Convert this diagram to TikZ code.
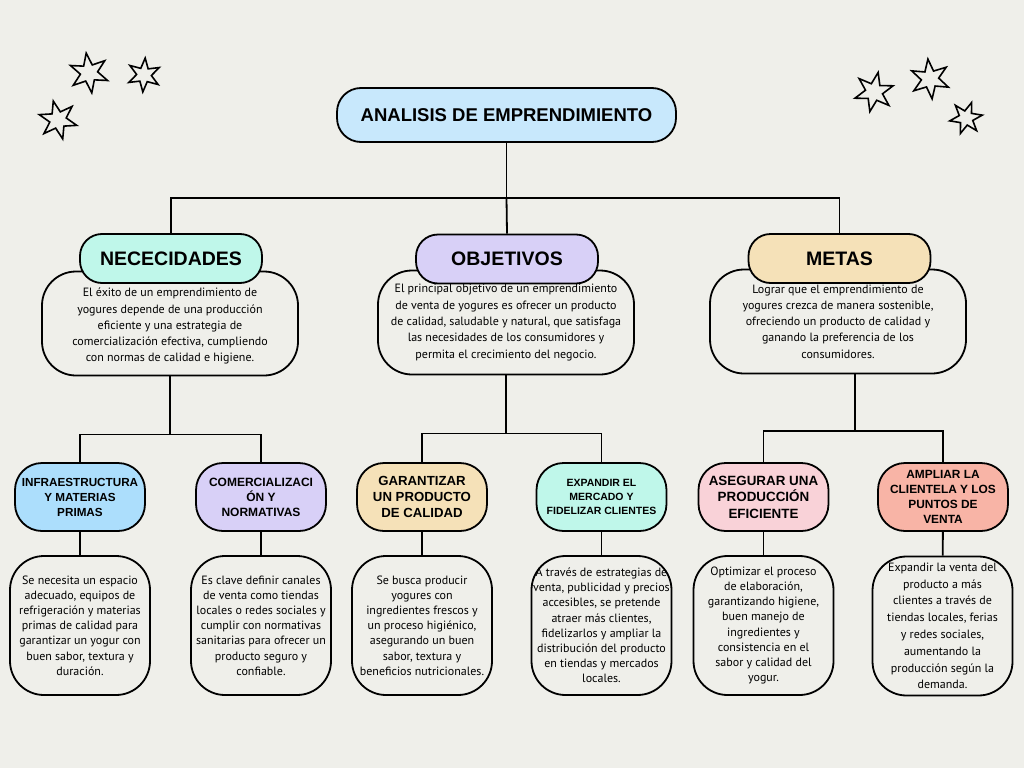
\documentclass[tikz,border=0pt]{standalone}
\usepackage{fontspec}
\setmainfont{PT Sans}
\newfontfamily\titfont{Liberation Sans}
\usepackage{xcolor}
\usepackage{tikz}
\usetikzlibrary{shapes.geometric}

\definecolor{fondo}{HTML}{EFEFEA}
\definecolor{celeste}{HTML}{C8E8FC}
\definecolor{azul}{HTML}{ACDEFC}
\definecolor{menta}{HTML}{BFF7EA}
\definecolor{lila}{HTML}{D8D0F7}
\definecolor{crema}{HTML}{F5E1B8}
\definecolor{rosa}{HTML}{F9D2D8}
\definecolor{salmon}{HTML}{F8B4A6}

\tikzset{
  caja/.style={draw=black, line width=1.8pt, fill=fondo, align=center, inner sep=0pt},
  principal/.style={caja, fill=celeste, rounded corners=24pt, minimum width=339pt,
    minimum height=54pt, font=\titfont\bfseries\fontsize{18.5}{22}\selectfont},
  rama/.style={caja, rounded corners=22pt, minimum width=182pt, minimum height=49pt,
    font=\titfont\bfseries\fontsize{19.5}{22}\selectfont},
  resumen/.style={caja, rounded corners=34pt, minimum width=256pt, minimum height=104pt,
    font=\fontsize{12}{16.3}\selectfont},
  sub/.style={caja, rounded corners=27pt, minimum width=130pt, minimum height=68pt},
  detalle/.style={caja, rounded corners=34pt, minimum width=140pt, minimum height=139pt,
    font=\fontsize{12}{15.2}\selectfont},
  enlace/.style={line width=1.8pt},
  estrella/.style={draw, star, star points=6, star point ratio=2.3, line width=1.6pt,
    minimum size=#1, inner sep=0pt}
}

\begin{document}
\begin{tikzpicture}[x=1pt, y=-1pt]
  \fill[fondo] (0,0) rectangle (1024,768);
  \useasboundingbox (0,0) rectangle (1024,768);

  % estrellas
  \node[estrella=40pt, rotate=8] (s1) at (89,73) {};
  \node[estrella=34pt, rotate=-4] (s2) at (144,75) {};
  \node[estrella=39pt, rotate=14] (s3) at (58,120) {};
  \node[estrella=40pt, rotate=-12] (s4) at (874,92) {};
  \node[estrella=40pt, rotate=6] (s5) at (930,79) {};
  \node[estrella=33pt, rotate=-20] (s6) at (966,118) {};

  \node[principal] (tit) at (506.5,115) {ANALISIS DE EMPRENDIMIENTO};

  % textos de cada rama
  \node[resumen] (dnec) at (170,323.5)
    {\\[-2pt]El éxito de un emprendimiento de\\ yogures depende de una producción\\
     eficiente y una estrategia de\\ comercialización efectiva, cumpliendo\\
     con normas de calidad e higiene.};
  \node[resumen] (dobj) at (506,322.5)
    {El principal objetivo de un emprendimiento\\ de venta de yogures es ofrecer un producto\\
     de calidad, saludable y natural, que satisfaga\\ las necesidades de los consumidores y\\
     permita el crecimiento del negocio.};
  \node[resumen] (dmet) at (838,321.5)
    {Lograr que el emprendimiento de\\ yogures crezca de manera sostenible,\\
     ofreciendo un producto de calidad y\\ ganando la preferencia de los\\ consumidores.};

  \node[rama, fill=menta] (nec) at (171,258.5) {NECECIDADES};
  \node[rama, fill=lila] (obj) at (507,259) {OBJETIVOS};
  \node[rama, fill=crema] (met) at (839.5,258.5) {METAS};

  % subtemas
  \node[sub, fill=azul, font=\titfont\bfseries\fontsize{11.7}{15}\selectfont] (infra) at (80,497)
    {INFRAESTRUCTURA\\ Y MATERIAS\\ PRIMAS};
  \node[sub, fill=lila, font=\titfont\bfseries\fontsize{12}{15}\selectfont] (com) at (261,497)
    {COMERCIALIZACI\\ ÓN Y\\ NORMATIVAS};
  \node[sub, fill=crema, font=\titfont\bfseries\fontsize{13.2}{16}\selectfont] (gar) at (422,497)
    {GARANTIZAR\\ UN PRODUCTO\\ DE CALIDAD};
  \node[sub, fill=menta, font=\titfont\bfseries\fontsize{10.5}{14}\selectfont] (exp) at (601.5,497)
    {EXPANDIR EL\\ MERCADO Y\\ FIDELIZAR CLIENTES};
  \node[sub, fill=rosa, font=\titfont\bfseries\fontsize{13.4}{16.5}\selectfont] (ase) at (763.5,497)
    {ASEGURAR UNA\\ PRODUCCIÓN\\ EFICIENTE};
  \node[sub, fill=salmon, font=\titfont\bfseries\fontsize{11.9}{15}\selectfont] (amp) at (943,497)
    {AMPLIAR LA\\ CLIENTELA Y LOS\\ PUNTOS DE\\ VENTA};

  % detalles
  \node[detalle] (d1) at (80,625.5)
    {Se necesita un espacio\\ adecuado, equipos de\\ refrigeración y materias\\
     primas de calidad para\\ garantizar un yogur con\\ buen sabor, textura y\\ duración.};
  \node[detalle] (d2) at (261,625.5)
    {Es clave definir canales\\ de venta como tiendas\\ locales o redes sociales y\\
     cumplir con normativas\\ sanitarias para ofrecer un\\ producto seguro y\\ confiable.};
  \node[detalle] (d3) at (422,625.5)
    {Se busca producir\\ yogures con\\ ingredientes frescos y\\ un proceso higiénico,\\
     asegurando un buen\\ sabor, textura y\\ beneficios nutricionales.};
  \node[detalle] (d4) at (601.5,625.5)
    {A través de estrategias de\\ venta, publicidad y precios\\ accesibles, se pretende\\
     atraer más clientes,\\ fidelizarlos y ampliar la\\ distribución del producto\\
     en tiendas y mercados\\ locales.};
  \node[detalle] (d5) at (763.5,625.5)
    {Optimizar el proceso\\ de elaboración,\\ garantizando higiene,\\ buen manejo de\\
     ingredientes y\\ consistencia en el\\ sabor y calidad del\\ yogur.};
  \node[detalle, font=\fontsize{12}{16.8}\selectfont] (d6) at (942.5,626)
    {Expandir la venta del\\ producto a más\\ clientes a través de\\ tiendas locales, ferias\\
     y redes sociales,\\ aumentando la\\ producción según la\\ demanda.};

  % conectores
  \draw[enlace] (tit.south) -- ++(0,55) coordinate (b0);
  \draw[enlace] (nec.north) |- (b0) -| (met.north);
  \draw[enlace] (b0) -- (obj.north);
  \draw[enlace] (dnec.south) -- ++(0,58) coordinate (b1);
  \draw[enlace] (infra.north) |- (b1) -| (com.north);
  \draw[enlace] (dobj.south) -- ++(0,58) coordinate (b2);
  \draw[enlace] (gar.north) |- (b2) -| (exp.north);
  \coordinate (b3) at (855,431);
  \draw[enlace] (dmet.south -| b3) -- (b3);
  \draw[enlace] (ase.north) |- (b3) -| (amp.north);
  \draw[enlace] (infra) -- (d1);
  \draw[enlace] (com) -- (d2);
  \draw[enlace] (gar) -- (d3);
  \draw[enlace] (exp) -- (d4);
  \draw[enlace] (ase) -- (d5);
  \draw[enlace] (amp) -- (d6);
\end{tikzpicture}
\end{document}
